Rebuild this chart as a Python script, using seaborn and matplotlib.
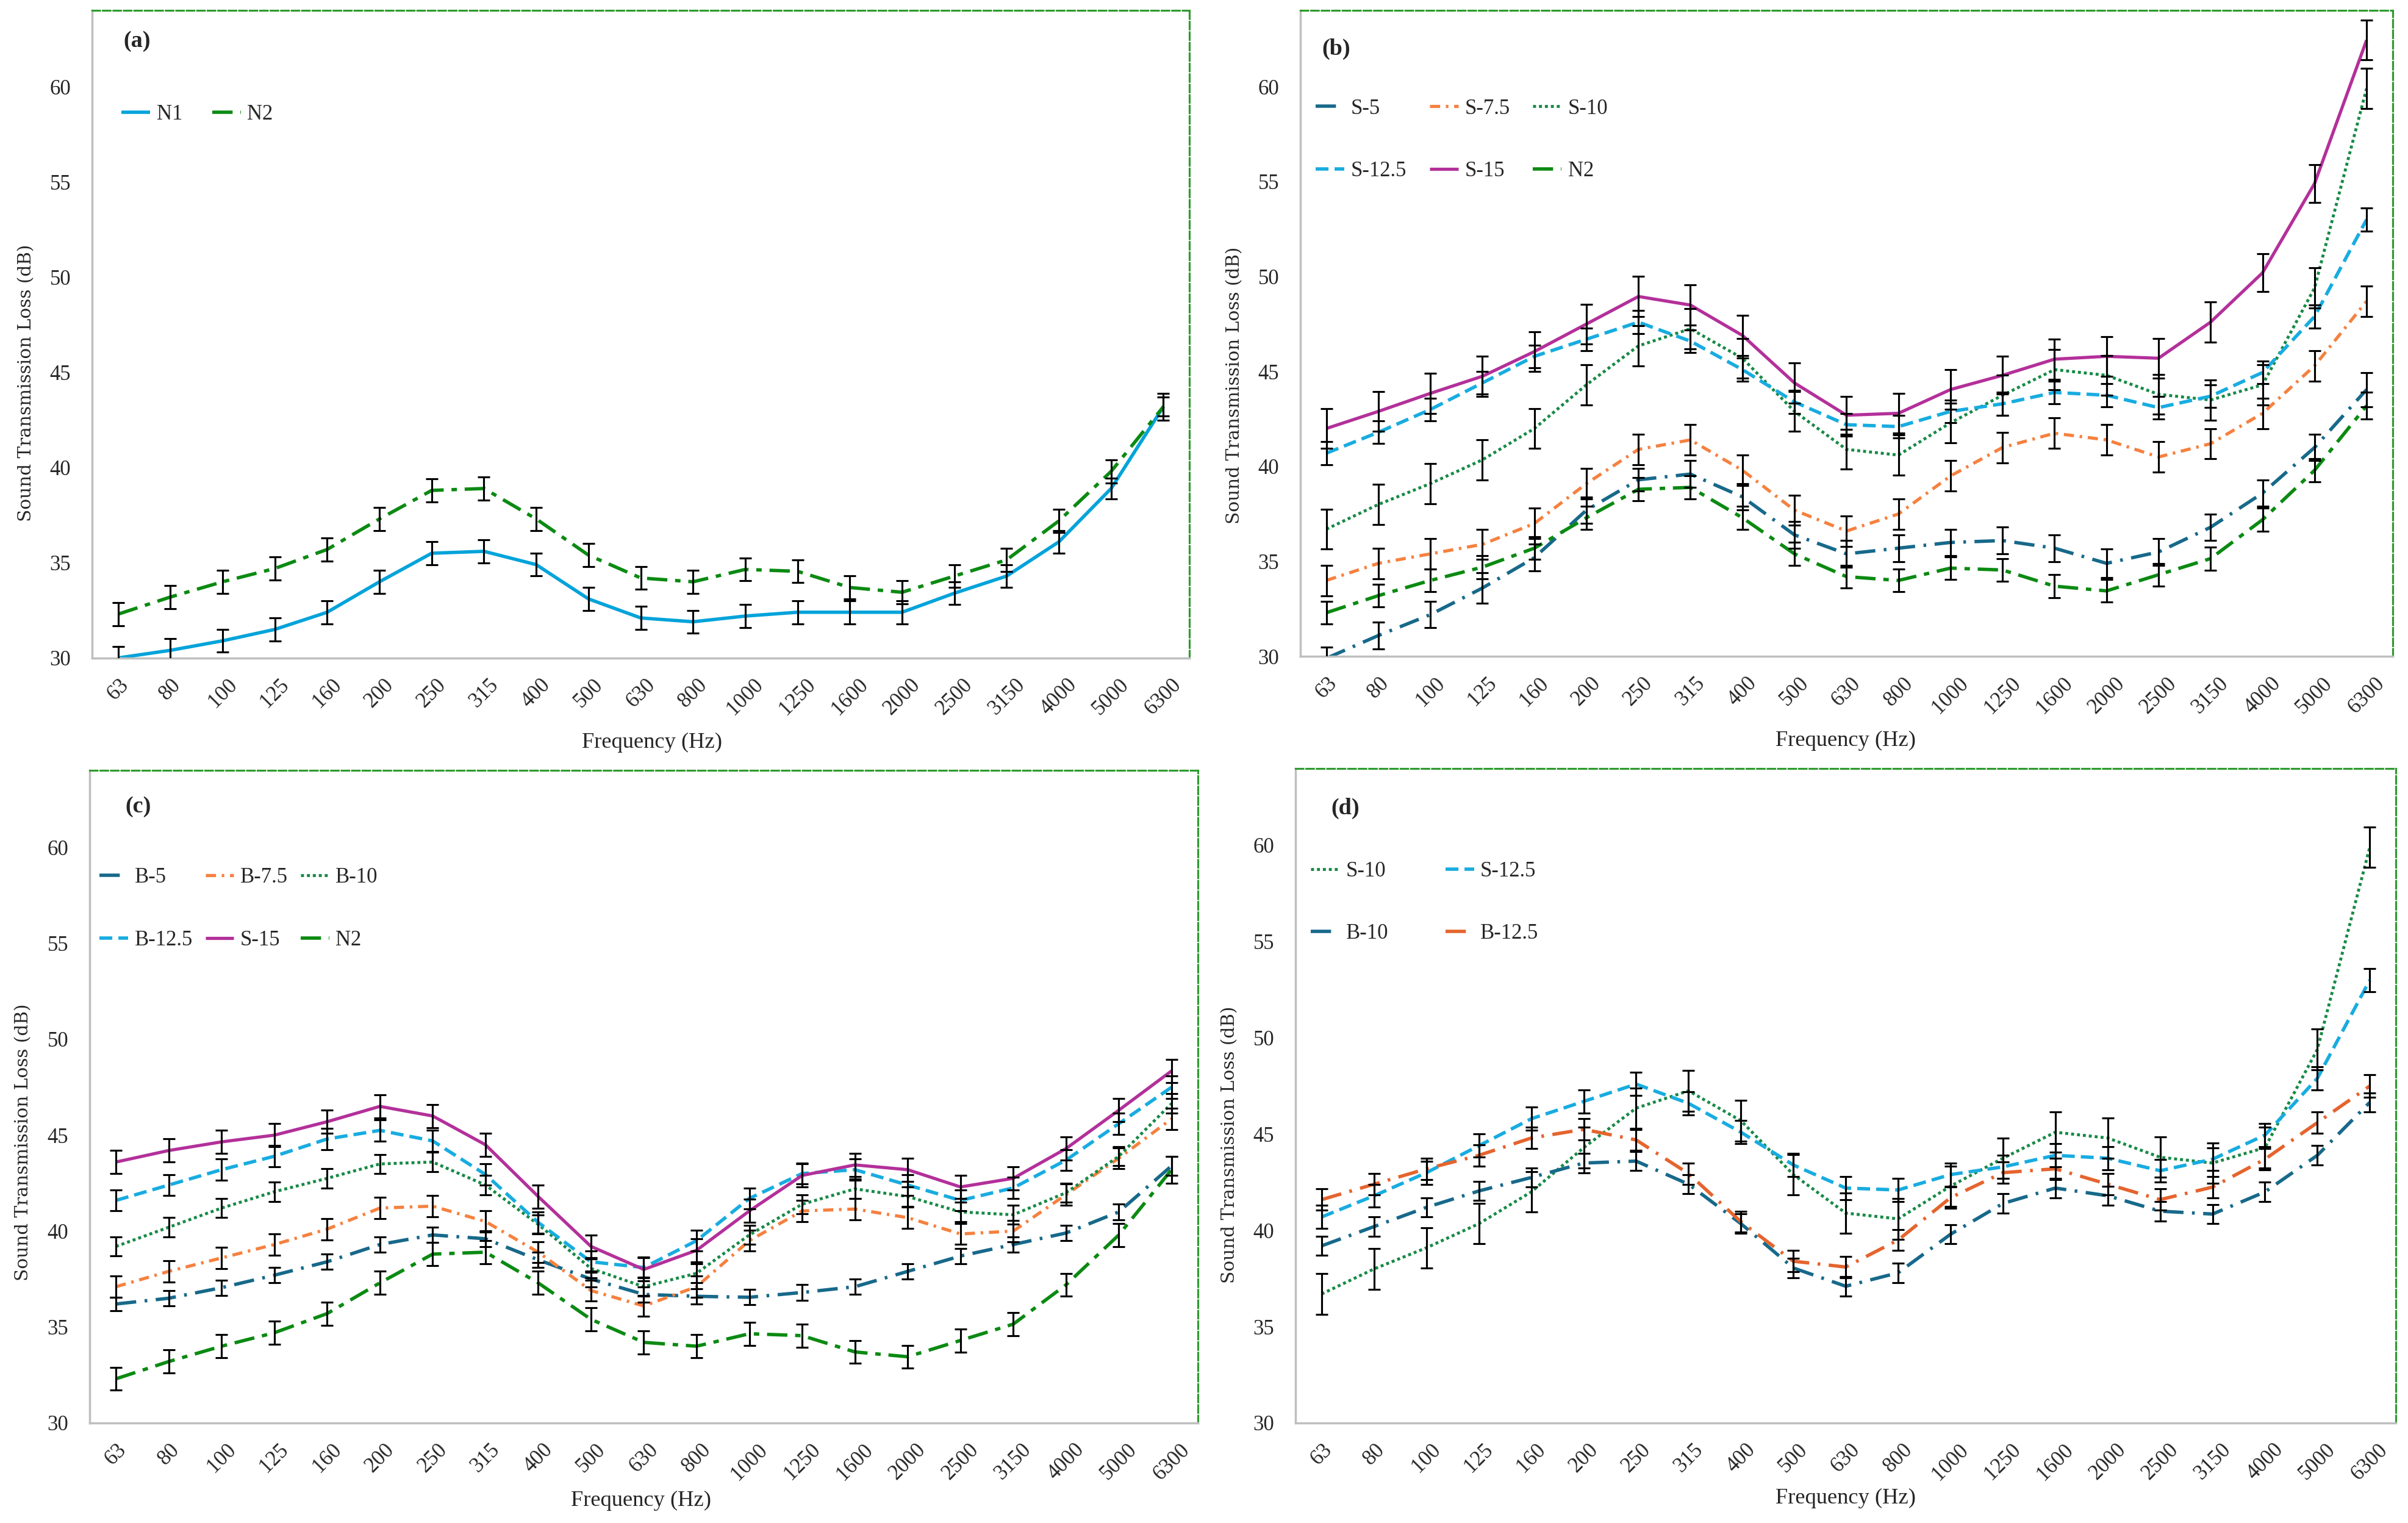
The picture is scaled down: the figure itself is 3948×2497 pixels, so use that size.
import numpy as np
import matplotlib
matplotlib.use("Agg")
import matplotlib.pyplot as plt
import seaborn as sns

sns.set_style("white")
plt.rcParams['font.family'] = ['Liberation Serif', 'DejaVu Serif']

freqs = ['63', '80', '100', '125', '160', '200', '250', '315', '400', '500', '630',
         '800', '1000', '1250', '1600', '2000', '2500', '3150', '4000', '5000', '6300']

n1 = [30.0, 30.4, 30.9, 31.5, 32.4, 34.0, 35.5, 35.6, 34.9, 33.1, 32.1,
      31.9, 32.2, 32.4, 32.4, 32.4, 33.4, 34.3, 36.1, 38.9, 43.2]
n1_err = [0.6, 0.6, 0.6, 0.6, 0.6, 0.6, 0.6, 0.6, 0.6, 0.6, 0.6,
          0.6, 0.6, 0.6, 0.6, 0.6, 0.6, 0.6, 0.6, 0.55, 0.5]
n2 = [32.3, 33.2, 34.0, 34.7, 35.7, 37.3, 38.8, 38.9, 37.3, 35.4, 34.2,
      34.0, 34.65, 34.55, 33.7, 33.45, 34.3, 35.15, 37.2, 39.8, 43.2]
n2_err = [0.6, 0.6, 0.6, 0.6, 0.6, 0.6, 0.6, 0.6, 0.6, 0.6, 0.6,
          0.6, 0.6, 0.6, 0.6, 0.6, 0.6, 0.6, 0.6, 0.6, 0.7]

s5 = [29.9, 31.1, 32.2, 33.6, 35.2, 37.7, 39.3, 39.6, 38.4, 36.4, 35.4,
      35.7, 36.0, 36.1, 35.7, 34.9, 35.5, 36.8, 38.6, 41.0, 44.05]
s5_err = [0.6, 0.7, 0.7, 0.8, 0.7, 0.7, 0.6, 0.7, 0.7, 0.7, 0.7,
          0.7, 0.7, 0.7, 0.7, 0.75, 0.7, 0.7, 0.7, 0.7, 0.9]
s75 = [34.0, 34.9, 35.4, 35.9, 37.0, 39.1, 40.9, 41.4, 39.8, 37.7, 36.6,
       37.5, 39.5, 41.0, 41.75, 41.4, 40.5, 41.2, 42.8, 45.3, 48.7]
s75_err = [0.8, 0.8, 0.8, 0.8, 0.8, 0.8, 0.8, 0.8, 0.8, 0.8, 0.8,
           0.8, 0.8, 0.8, 0.8, 0.8, 0.8, 0.8, 0.8, 0.8, 0.8]
s10 = [36.7, 38.0, 39.1, 40.35, 42.0, 44.3, 46.35, 47.25, 45.7, 42.9, 40.9,
       40.6, 42.3, 43.75, 45.1, 44.8, 43.8, 43.5, 44.3, 49.4, 59.9]
s10_err = [1.05, 1.05, 1.05, 1.05, 1.05, 1.05, 1.05, 1.05, 1.05, 1.05, 1.05,
           1.05, 1.05, 1.05, 1.05, 1.05, 1.05, 1.05, 1.05, 1.05, 1.05]
s125 = [40.7, 41.8, 43.0, 44.4, 45.8, 46.7, 47.6, 46.6, 45.1, 43.4, 42.2,
        42.1, 42.9, 43.3, 43.9, 43.75, 43.1, 43.7, 44.95, 47.9, 53.0]
s125_err = [0.6, 0.6, 0.6, 0.6, 0.6, 0.6, 0.6, 0.6, 0.6, 0.6, 0.6,
            0.6, 0.6, 0.6, 0.6, 0.6, 0.6, 0.6, 0.6, 0.6, 0.6]
s15 = [42.0, 42.9, 43.85, 44.75, 46.05, 47.5, 48.95, 48.5, 46.9, 44.4, 42.7,
       42.8, 44.05, 44.8, 45.65, 45.8, 45.7, 47.6, 50.2, 54.9, 62.45]
s15_err = [1.05, 1.05, 1.05, 1.05, 1.05, 1.05, 1.05, 1.05, 1.05, 1.05, 1.0,
           1.05, 1.05, 1.0, 1.05, 1.05, 1.05, 1.05, 1.0, 1.0, 1.05]

b5 = [36.2, 36.5, 37.05, 37.7, 38.4, 39.3, 39.8, 39.6, 38.5, 37.5, 36.7,
      36.6, 36.55, 36.8, 37.1, 37.9, 38.7, 39.3, 39.9, 41.0, 43.4]
b5_err = [0.35, 0.4, 0.4, 0.4, 0.4, 0.4, 0.4, 0.4, 0.4, 0.4, 0.4,
          0.4, 0.4, 0.4, 0.4, 0.4, 0.4, 0.4, 0.4, 0.4, 0.5]
b75 = [37.1, 37.9, 38.6, 39.3, 40.1, 41.2, 41.3, 40.5, 38.9, 36.9, 36.1,
       37.1, 39.5, 41.05, 41.15, 40.7, 39.85, 40.0, 41.9, 43.8, 45.85]
b75_err = [0.55, 0.55, 0.55, 0.55, 0.55, 0.55, 0.55, 0.55, 0.55, 0.55, 0.55,
           0.55, 0.55, 0.55, 0.55, 0.55, 0.55, 0.55, 0.55, 0.55, 0.55]
b10 = [39.2, 40.2, 41.2, 42.05, 42.75, 43.5, 43.6, 42.4, 40.35, 38.05, 37.1,
       37.8, 39.8, 41.4, 42.2, 41.8, 41.0, 40.85, 42.0, 43.9, 46.65]
b10_err = [0.5, 0.5, 0.5, 0.5, 0.5, 0.5, 0.5, 0.5, 0.5, 0.5, 0.5,
           0.5, 0.5, 0.5, 0.5, 0.5, 0.5, 0.5, 0.5, 0.5, 0.5]
b125 = [41.6, 42.4, 43.2, 43.9, 44.8, 45.25, 44.7, 42.95, 40.45, 38.4, 38.1,
        39.5, 41.7, 43.0, 43.2, 42.4, 41.6, 42.25, 43.7, 45.6, 47.5]
b125_err = [0.55, 0.55, 0.55, 0.55, 0.55, 0.55, 0.55, 0.55, 0.55, 0.55, 0.55,
            0.55, 0.55, 0.55, 0.55, 0.55, 0.55, 0.55, 0.55, 0.55, 0.6]
s15_c = [43.6, 44.2, 44.65, 45.0, 45.7, 46.5, 46.0, 44.5, 41.8, 39.2, 38.0,
         39.0, 41.05, 42.9, 43.45, 43.2, 42.3, 42.75, 44.3, 46.3, 48.35]
s15_c_err = [0.6, 0.6, 0.6, 0.6, 0.6, 0.6, 0.6, 0.6, 0.6, 0.6, 0.6,
             0.6, 0.6, 0.6, 0.6, 0.6, 0.6, 0.6, 0.6, 0.6, 0.6]

# colours / dash styles (dash lengths in linewidth units)
C_N1, C_N2 = '#02A3DA', '#0B8A12'
C_TEAL, C_ORANGE, C_DGREEN = '#17698A', '#F5813F', '#178A46'
C_CYAN, C_MAG, C_RED = '#18ACE0', '#B3309A', '#E5642E'
D_N2 = (6, 2.3, 1.6, 2.3)
D_LDD = (6, 2.5, 0.8, 2.5)
D_DD = (3.2, 1.8, 0.8, 1.8)
D_DOT = (1, 1)
D_DASH = (3.8, 1.8)

x = np.arange(len(freqs))

fig = plt.figure(figsize=(15.792, 9.988), dpi=250)


def panel(rect, series, tag, tagpos, ncol, leg_anchor, colspace, ylab_y, xlab_pos):
    ax = fig.add_axes(rect)
    handles = []
    for label, vals, err, color, dash, lw in series:
        sns.lineplot(x=x, y=vals, color=color, lw=lw, ax=ax, label=label, errorbar=None)
        line = ax.lines[-1]
        if dash is not None:
            line.set_dashes(dash)
        line.set_solid_capstyle('butt')
        line.set_dash_capstyle('butt')
        handles.append(line)
        ax.errorbar(x, vals, yerr=err, fmt='none', ecolor='black',
                    elinewidth=0.9, capsize=3, capthick=0.9, zorder=4)
    ax.set_xlim(-0.5, len(freqs) - 0.5)
    ax.set_ylim(30, 64)
    ax.set_yticks([30, 35, 40, 45, 50, 55, 60])
    ax.set_xticks(x)
    ax.set_xticklabels(freqs, rotation=45, ha='center', va='top')
    ax.tick_params(axis='both', length=0, labelsize=10)
    ax.tick_params(axis='x', pad=8)
    ax.tick_params(axis='y', pad=10)
    for s in ['left', 'bottom']:
        ax.spines[s].set_color('#BFBFBF')
        ax.spines[s].set_linewidth(1.0)
    for s in ['top', 'right']:
        ax.spines[s].set_color('#2E9A2E')
        ax.spines[s].set_linestyle((0, (4, 1.5)))
        ax.spines[s].set_linewidth(0.9)
    ax.set_ylabel('Sound Transmission Loss (dB)', family='DejaVu Serif', fontsize=8.5)
    ax.yaxis.set_label_coords(-0.052, ylab_y)
    ax.set_xlabel('Frequency (Hz)', fontsize=10.5)
    ax.xaxis.set_label_coords(*xlab_pos)
    ax.text(tagpos[0], tagpos[1], tag, transform=ax.transAxes, fontsize=11,
            fontweight='bold', ha='center', va='center')
    labels = [h.get_label() for h in handles]
    order = [i for c in range(ncol) for i in range(c, len(handles), ncol)]
    ax.legend([handles[i] for i in order], [labels[i] for i in order], ncol=ncol,
              loc='center left', bbox_to_anchor=leg_anchor, frameon=False,
              prop={'size': 10}, handlelength=1.35, handletextpad=0.3,
              labelspacing=2.0, columnspacing=colspace, borderpad=0, borderaxespad=0)
    return ax


panel([0.0382, 0.568, 0.4558, 0.425],
      [('N1', n1, n1_err, C_N1, None, 1.6),
       ('N2', n2, n2_err, C_N2, D_N2, 1.6)],
      '(a)', (0.041, 0.953), 2, (0.027, 0.84), 1.4, 0.425, (0.51, -0.115))

panel([0.540, 0.569, 0.4536, 0.424],
      [('S-5', s5, s5_err, C_TEAL, D_LDD, 1.6),
       ('S-7.5', s75, s75_err, C_ORANGE, D_DD, 1.5),
       ('S-10', s10, s10_err, C_DGREEN, D_DOT, 1.4),
       ('S-12.5', s125, s125_err, C_CYAN, D_DASH, 1.6),
       ('S-15', s15, s15_err, C_MAG, None, 1.5),
       ('N2', n2, n2_err, C_N2, D_N2, 1.6)],
      '(b)', (0.033, 0.941), 3, (0.014, 0.80), 1.1, 0.42, (0.499, -0.115))

panel([0.0372, 0.0657, 0.4603, 0.4283],
      [('B-5', b5, b5_err, C_TEAL, D_LDD, 1.6),
       ('B-7.5', b75, b75_err, C_ORANGE, D_DD, 1.5),
       ('B-10', b10, b10_err, C_DGREEN, D_DOT, 1.4),
       ('B-12.5', b125, b125_err, C_CYAN, D_DASH, 1.6),
       ('S-15', s15_c, s15_c_err, C_MAG, None, 1.5),
       ('N2', n2, n2_err, C_N2, D_N2, 1.6)],
      '(c)', (0.044, 0.945), 3, (0.009, 0.788), 0.6, 0.43, (0.4975, -0.104))

panel([0.538, 0.0657, 0.457, 0.4298],
      [('S-10', s10, s10_err, C_DGREEN, D_DOT, 1.4),
       ('S-12.5', s125, s125_err, C_CYAN, D_DASH, 1.6),
       ('B-10', b10, b10_err, C_TEAL, D_LDD, 1.6),
       ('B-12.5', b125, b125_err, C_RED, D_LDD, 1.6)],
      '(d)', (0.045, 0.939), 2, (0.014, 0.795), 2.7, 0.425, (0.5, -0.10))

fig.savefig('out.png', dpi=250)
